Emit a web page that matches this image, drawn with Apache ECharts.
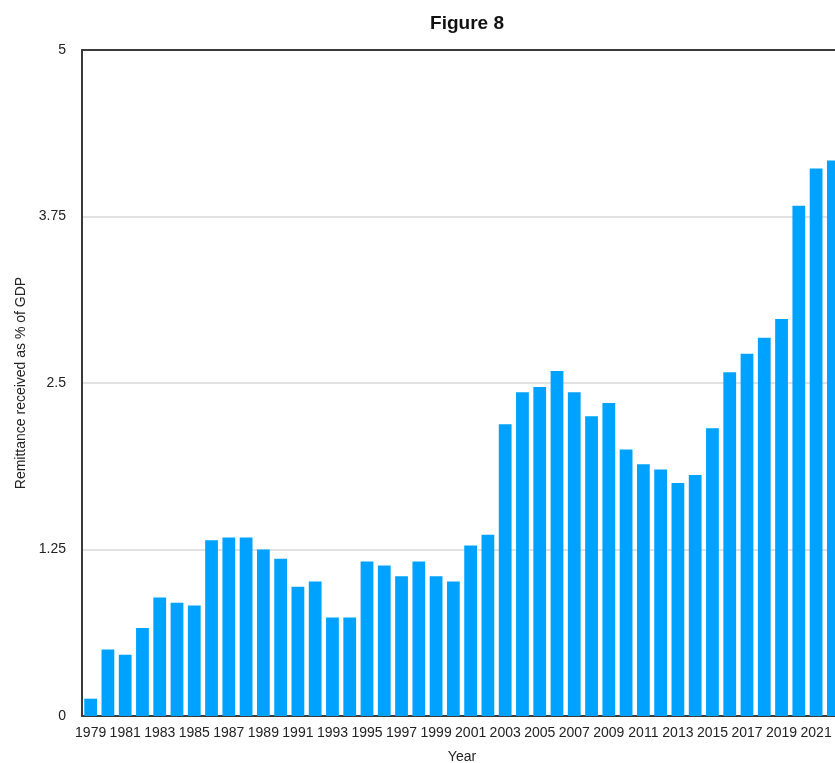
<!DOCTYPE html>
<html>
<head>
<meta charset="utf-8">
<title>Figure 8</title>
<script src="https://cdn.jsdelivr.net/npm/echarts@6/dist/echarts.min.js"></script>
<style>
  html, body { margin: 0; padding: 0; background: #ffffff; }
  #chart { width: 835px; height: 763px; }
</style>
</head>
<body>
<div id="chart"></div>
<script>
// Remittance inflows as a share of GDP, by year
const years = [
  '1979','1980','1981','1982','1983','1984','1985','1986','1987','1988',
  '1989','1990','1991','1992','1993','1994','1995','1996','1997','1998',
  '1999','2000','2001','2002','2003','2004','2005','2006','2007','2008',
  '2009','2010','2011','2012','2013','2014','2015','2016','2017','2018',
  '2019','2020','2021','2022'
];
const remittancePctGdp = [
  0.13, 0.50, 0.46, 0.66, 0.89, 0.85, 0.83, 1.32, 1.34, 1.34,
  1.25, 1.18, 0.97, 1.01, 0.74, 0.74, 1.16, 1.13, 1.05, 1.16,
  1.05, 1.01, 1.28, 1.36, 2.19, 2.43, 2.47, 2.59, 2.43, 2.25,
  2.35, 2.00, 1.89, 1.85, 1.75, 1.81, 2.16, 2.58, 2.72, 2.84,
  2.98, 3.83, 4.11, 4.17
];
const yTicks = [0, 1.25, 2.5, 3.75, 5];

const FONT = '"Liberation Sans", Arial, Helvetica, sans-serif';
const chart = echarts.init(document.getElementById('chart'), null, { renderer: 'canvas' });

chart.setOption({
  backgroundColor: '#ffffff',
  animation: false,
  title: {
    text: 'Figure 8',
    left: 462,
    top: 9,
    textAlign: 'center',
    textStyle: { fontFamily: FONT, fontSize: 19, fontWeight: 'bold', color: '#111111' }
  },
  // the plotting area runs past the right edge of the canvas on purpose
  grid: { left: 82, top: 50, width: 760, height: 666, containLabel: false, outerBoundsMode: 'none' },
  xAxis: [
    {
      type: 'category',
      data: years,
      position: 'bottom',
      name: 'Year',
      nameLocation: 'middle',
      nameGap: 34,
      nameTextStyle: { fontFamily: FONT, fontSize: 14, color: '#222222' },
      axisLine: { show: true, lineStyle: { color: '#3a3a3a', width: 2 } },
      axisTick: { show: false },
      axisLabel: {
        interval: 1,
        margin: 10,
        fontFamily: FONT,
        fontSize: 14,
        color: '#222222'
      },
      splitLine: { show: false }
    },
    {
      // top border of the plotting area
      type: 'category',
      data: years,
      position: 'top',
      axisLine: { show: true, lineStyle: { color: '#3a3a3a', width: 2 } },
      axisTick: { show: false },
      axisLabel: { show: false },
      splitLine: { show: false }
    }
  ],
  yAxis: {
    type: 'value',
    min: yTicks[0],
    max: yTicks[yTicks.length - 1],
    interval: yTicks[1] - yTicks[0],
    name: 'Remittance received as % of GDP',
    nameLocation: 'middle',
    nameGap: 52,
    nameRotate: 90,
    nameTextStyle: { fontFamily: FONT, fontSize: 14, color: '#222222' },
    axisLine: { show: true, lineStyle: { color: '#3a3a3a', width: 2 } },
    axisTick: { show: false },
    axisLabel: {
      margin: 16,
      fontFamily: FONT,
      fontSize: 14,
      color: '#222222',
      formatter: v => String(v)
    },
    splitLine: { show: true, lineStyle: { color: '#d9d9d9', width: 1.5 } }
  },
  series: [
    {
      type: 'bar',
      xAxisIndex: 0,
      data: remittancePctGdp,
      barCategoryGap: '26%',
      itemStyle: { color: '#00a2ff' }
    }
  ]
});
</script>
</body>
</html>
